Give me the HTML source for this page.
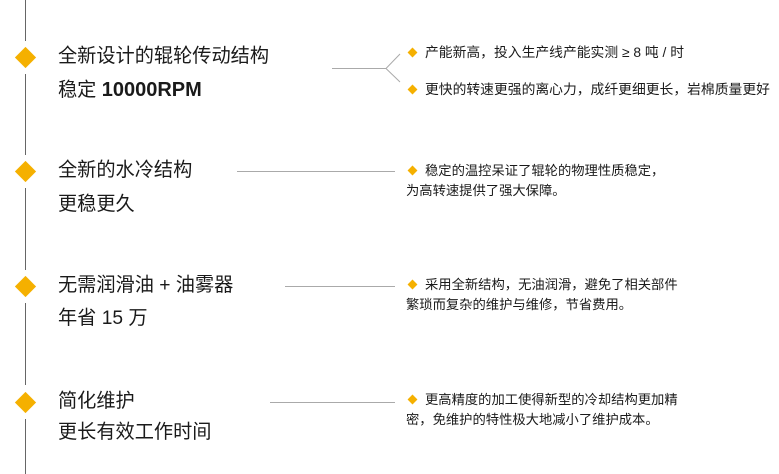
<!DOCTYPE html>
<html><head><meta charset="utf-8"><style>
body{margin:0;width:779px;height:474px;background:#fff;position:relative;overflow:hidden;font-family:"Liberation Sans","Noto Sans CJK SC",sans-serif;color:#222}
.v{position:absolute;left:25px;width:1px;background:#666}
.d{position:absolute;width:15px;height:15px;background:#f5b000;transform:rotate(45deg)}
.t{position:absolute;left:58px;font-size:19.2px;line-height:22px;white-space:nowrap;color:#1a1a1a}
.h{position:absolute;height:1px;background:#aaa}
.s{position:absolute;left:406px;font-size:13.3px;line-height:20px;white-space:nowrap;color:#1a1a1a}
.s i{display:inline-block;width:7px;height:7px;background:#f5b000;transform:rotate(45deg);margin:0 9px 1px 3px}
</style></head><body>
<div class="v" style="top:0;height:41px"></div>
<div class="v" style="top:74px;height:81px"></div>
<div class="v" style="top:188px;height:82px"></div>
<div class="v" style="top:303px;height:82px"></div>
<div class="v" style="top:419px;height:55px"></div>
<div class="d" style="left:18px;top:50px"></div>
<div class="d" style="left:18px;top:164px"></div>
<div class="d" style="left:18px;top:279px"></div>
<div class="d" style="left:18px;top:395px"></div>

<div class="t" style="top:46px">全新设计的辊轮传动结构</div>
<div class="t" style="top:79px">稳定 <b style="font-size:20px">10000RPM</b></div>
<div class="t" style="top:160px">全新的水冷结构</div>
<div class="t" style="top:194px">更稳更久</div>
<div class="t" style="top:275px">无需润滑油 + 油雾器</div>
<div class="t" style="top:308px">年省 15 万</div>
<div class="t" style="top:391px">简化维护</div>
<div class="t" style="top:422px">更长有效工作时间</div>

<svg style="position:absolute;left:0;top:0" width="779" height="474">
<g stroke="#aaa" stroke-width="1" fill="none">
<path d="M332 68.5H386L400 54M386 68.5L400 82"/>
<path d="M237 171.5H395"/>
<path d="M285 286.5H395"/>
<path d="M270 402.5H395"/>
</g></svg>

<div class="s" style="top:43px;font-size:13.8px"><i></i>产能新高，投入生产线产能实测 ≥ 8 吨 / 时</div>
<div class="s" style="top:80px;font-size:13.8px"><i></i>更快的转速更强的离心力，成纤更细更长，岩棉质量更好</div>
<div class="s" style="top:161px"><i></i>稳定的温控呆证了辊轮的物理性质稳定，<br>为高转速提供了强大保障。</div>
<div class="s" style="top:275px"><i></i>采用全新结构，无油润滑，避免了相关部件<br>繁琐而复杂的维护与维修，节省费用。</div>
<div class="s" style="top:390px"><i></i>更高精度的加工使得新型的冷却结构更加精<br>密，免维护的特性极大地减小了维护成本。</div>
</body></html>
